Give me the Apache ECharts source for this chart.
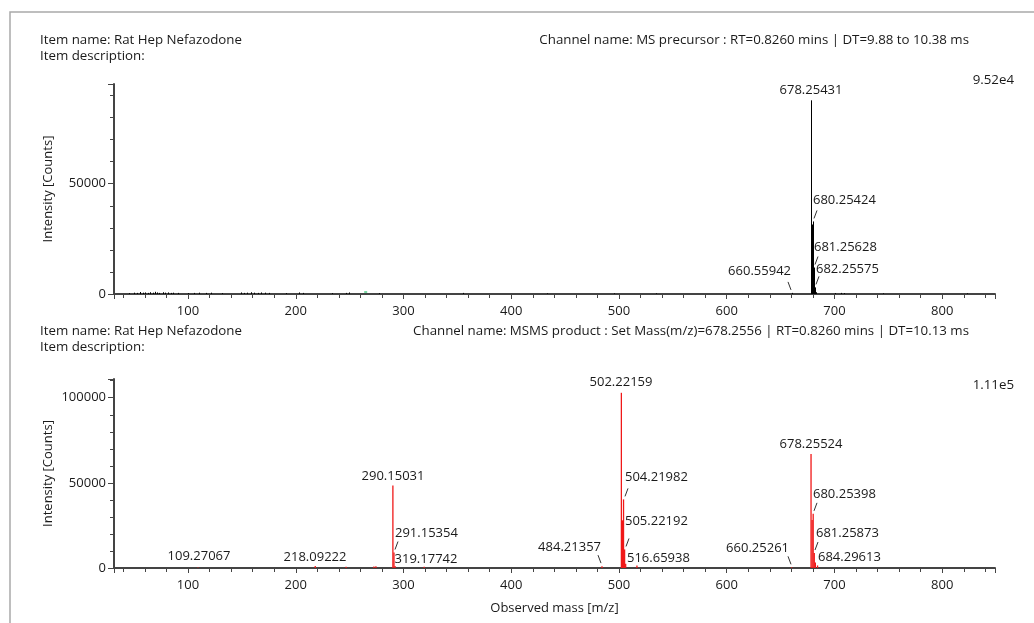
<!DOCTYPE html>
<html><head><meta charset="utf-8">
<script src="https://cdn.jsdelivr.net/npm/echarts@6/dist/echarts.min.js"></script>
<style>html,body{margin:0;padding:0;background:#fff}#c{width:1034px;height:623px}</style>
</head><body><div id="c"></div>
<script>
// ---------- Panel 1: MS precursor (black sticks) ----------
const msMz = [44.9, 50.1, 53.0, 55.1, 58.0, 60.1, 63.0, 65.1, 67.1, 69.0, 71.1, 73.0, 77.0, 79.0, 81.1, 84.0, 86.1, 91.1,
  100.1, 105.1, 110.0, 117.1, 121.0, 131.1, 149.0, 152.1, 155.0, 158.1, 161.0, 165.1, 168.0, 171.1, 175.1, 191.1,
  203.1, 207.1, 233.2, 246.2, 249.1, 277.2, 355.2, 433.2, 495.2, 534.3,
  660.55942, 678.25431, 679.2576, 680.25424, 681.25628, 682.25575, 683.26, 700.3, 706.3, 709.3, 745.3, 823.4];
const msIntensity = [400, 600, 500, 900, 600, 700, 500, 800, 600, 1000, 700, 500, 800, 600, 700, 500, 600, 500,
  400, 500, 600, 500, 600, 400, 700, 500, 600, 800, 600, 500, 700, 600, 500, 400,
  700, 500, 400, 500, 700, 400, 500, 300, 300, 300,
  500, 87800, 31500, 32900, 12000, 3000, 800, 400, 500, 400, 300, 300];
const msMarkerMz = [264.9];
const msMarkerIntensity = [900];
const msLabelMz = [678.25431, 680.25424, 681.25628, 682.25575, 660.55942];
const msLabelIntensity = [87800, 32900, 12000, 3000, 500];
const msLabelText = ['678.25431', '680.25424', '681.25628', '682.25575', '660.55942'];

// ---------- Panel 2: MSMS product (red sticks) ----------
const msmsMz = [109.27067, 218.09222, 246.7, 272.5, 274.4, 290.15031, 291.15354, 292.15, 319.17742,
  484.21357, 502.22159, 503.2245, 504.21982, 505.22192, 506.22, 516.65938,
  660.25261, 678.25524, 679.2583, 680.25398, 681.25873, 682.2563, 684.29613];
const msmsIntensity = [300, 1200, 800, 900, 1000, 48500, 9100, 1200, 700,
  1100, 102900, 28000, 40300, 10900, 2500, 1500,
  400, 67000, 28200, 31800, 8800, 3200, 1500];
const msmsLabelMz = [109.27067, 218.09222, 290.15031, 291.15354, 319.17742, 484.21357, 502.22159, 504.21982,
  505.22192, 516.65938, 660.25261, 678.25524, 680.25398, 681.25873, 684.29613];
const msmsLabelIntensity = [300, 1200, 48500, 9100, 700, 1100, 102900, 40300, 10900, 1500, 400, 67000, 31800, 8800, 1500];
const msmsLabelText = ['109.27067', '218.09222', '290.15031', '291.15354', '319.17742', '484.21357', '502.22159', '504.21982',
  '505.22192', '516.65938', '660.25261', '678.25524', '680.25398', '681.25873', '684.29613'];

// axis ranges & texts
const xRange = [31.3, 849];
const msYMax = 95200;
const msmsYMax = 111000;
const msHeader = ['Item name: Rat Hep Nefazodone', 'Item description:', 'Channel name: MS precursor : RT=0.8260 mins | DT=9.88 to 10.38 ms', '9.52e4'];
const msmsHeader = ['Item name: Rat Hep Nefazodone', 'Item description:', 'Channel name: MSMS product : Set Mass(m/z)=678.2556 | RT=0.8260 mins | DT=10.13 ms', '1.11e5'];
const yName = 'Intensity [Counts]';
const xName = 'Observed mass [m/z]';

// ---------- label layout (style, not data) ----------
const msLabelLayout = [
  {align: 'center', dx: 0, dy: -10, leader: ''},
  {align: 'left', dx: 0, dy: -21, leader: '/'},
  {align: 'left', dx: 0, dy: -20, leader: '/'},
  {align: 'left', dx: 1, dy: -18, leader: '/'},
  {align: 'right', dx: -1, dy: -22, leader: '\\'}
];
const msmsLabelLayout = [
  {align: 'center', dx: 1, dy: -11, leader: ''},
  {align: 'center', dx: 0, dy: -9, leader: ''},
  {align: 'center', dx: 0, dy: -9, leader: ''},
  {align: 'left', dx: 1, dy: -19, leader: '/'},
  {align: 'center', dx: 2, dy: -8, leader: ''},
  {align: 'right', dx: -1, dy: -19, leader: '\\'},
  {align: 'center', dx: 0, dy: -10, leader: ''},
  {align: 'left', dx: 1, dy: -22, leader: '/'},
  {align: 'left', dx: 0, dy: -28, leader: '/'},
  {align: 'left', dx: -10, dy: -7, leader: ''},
  {align: 'right', dx: -3, dy: -19, leader: '\\'},
  {align: 'center', dx: 0, dy: -10, leader: ''},
  {align: 'left', dx: 0, dy: -20, leader: '/'},
  {align: 'left', dx: 2, dy: -20, leader: '/'},
  {align: 'left', dx: 0, dy: -8, leader: ''}
];

const FONT = '"Open Sans", "Noto Sans", sans-serif';
const FS = 13;
const HFS = 13.3;
const TXT = '#1a1a1a';
const AXC = '#444';

function stickSeries(idx, mz, inten, color, crisp, width) {
  return {
    type: 'custom', xAxisIndex: idx, yAxisIndex: idx, silent: true, clip: true, z: 3,
    data: mz.map((m, i) => [m, inten[i]]),
    renderItem: function (params, api) {
      const p0 = api.coord([api.value(0), 0]);
      const p1 = api.coord([api.value(0), api.value(1)]);
      const x = crisp ? Math.round(p0[0]) + 0.5 : p0[0];
      return {type: 'line', shape: {x1: x, y1: p0[1], x2: x, y2: p1[1]}, style: {stroke: color, lineWidth: width}};
    }
  };
}
function labelSeries(idx, mz, inten, texts, layout) {
  return {
    type: 'custom', xAxisIndex: idx, yAxisIndex: idx, silent: true, clip: false, z: 5,
    data: mz.map((m, i) => [m, inten[i]]),
    renderItem: function (params, api) {
      const i = params.dataIndex;
      const p = api.coord([api.value(0), api.value(1)]);
      const L = layout[i];
      const px = Math.round(p[0]);
      const ch = [{type: 'text', x: px + L.dx, y: p[1] + L.dy,
        style: {text: texts[i], align: L.align, verticalAlign: 'middle', fontFamily: FONT, fontSize: FS, fill: TXT}}];
      if (L.leader === '/') ch.push({type: 'line', shape: {x1: px + 1, y1: p[1] - 3, x2: px + 4, y2: p[1] - 11}, style: {stroke: '#333', lineWidth: 1}});
      if (L.leader === '\\') ch.push({type: 'line', shape: {x1: px - 1, y1: p[1] - 3, x2: px - 4, y2: p[1] - 11}, style: {stroke: '#333', lineWidth: 1}});
      return {type: 'group', children: ch};
    }
  };
}
function xAxis(idx, withName) {
  return {
    type: 'value', gridIndex: idx, min: xRange[0], max: xRange[1], splitNumber: 8, minInterval: 100, maxInterval: 100,
    axisLine: {show: true, onZero: false, lineStyle: {color: AXC, width: 2}},
    axisTick: {show: true, length: 5, lineStyle: {color: AXC}},
    minorTick: {show: true, splitNumber: 5, length: 4, lineStyle: {color: AXC}},
    axisLabel: {show: true, showMinLabel: false, showMaxLabel: false, margin: 11, color: TXT, fontFamily: FONT, fontSize: FS},
    splitLine: {show: false},
    name: withName ? xName : '', nameLocation: 'middle', nameGap: 34, nameMoveOverlap: false,
    nameTextStyle: {color: TXT, fontFamily: FONT, fontSize: FS}
  };
}
function yAxis(idx, max) {
  return {
    type: 'value', gridIndex: idx, min: 0, max: max, splitNumber: 2, minInterval: 50000, maxInterval: 50000,
    axisLine: {show: true, lineStyle: {color: AXC, width: 2}},
    axisTick: {show: true, length: 6, lineStyle: {color: AXC}},
    minorTick: {show: true, splitNumber: 5, length: 4, lineStyle: {color: AXC}},
    axisLabel: {show: true, showMaxLabel: false, margin: 8, color: TXT, fontFamily: FONT, fontSize: FS,
      formatter: function (v) { return String(v); }},
    splitLine: {show: false},
    name: yName, nameLocation: 'middle', nameGap: 59, nameRotate: 90, nameMoveOverlap: false,
    nameTextStyle: {color: TXT, fontFamily: FONT, fontSize: FS}
  };
}
function headerTexts(h, yTop, yScale) {
  const st = {fontFamily: FONT, fontSize: HFS, fill: TXT};
  return [
    {type: 'text', left: 40, top: yTop, style: Object.assign({text: h[0]}, st)},
    {type: 'text', left: 40, top: yTop + 16.5, style: Object.assign({text: h[1]}, st)},
    {type: 'text', right: 1034 - 969, top: yTop, style: Object.assign({text: h[2]}, st)},
    {type: 'text', right: 1034 - 1014, top: yScale, style: Object.assign({text: h[3]}, st)}
  ];
}

const chart = echarts.init(document.getElementById('c'), null, {renderer: 'canvas'});
chart.setOption({
  backgroundColor: '#fff',
  animation: false,
  grid: [
    {left: 114, right: 39, top: 84, height: 210, containLabel: false},
    {left: 114, right: 39, top: 379, height: 189, containLabel: false}
  ],
  xAxis: [xAxis(0, false), xAxis(1, true)],
  yAxis: [yAxis(0, msYMax), yAxis(1, msmsYMax)],
  graphic: [
    {type: 'rect', shape: {x: 10, y: 12, width: 1100, height: 700}, style: {fill: 'none', stroke: '#a9a9a9', lineWidth: 1.5}, z: -1}
  ].concat(headerTexts(msHeader, 33.5, 73.5), headerTexts(msmsHeader, 324.5, 378.5)),
  series: [
    stickSeries(0, msMz, msIntensity, '#000', true, 1),
    {type: 'scatter', xAxisIndex: 0, yAxisIndex: 0, data: msMarkerMz.map((m, i) => [m, msMarkerIntensity[i]]),
      symbol: 'rect', symbolSize: [3, 1.5], itemStyle: {color: '#22bb66'}, silent: true, z: 4},
    labelSeries(0, msLabelMz, msLabelIntensity, msLabelText, msLabelLayout),
    stickSeries(1, msmsMz, msmsIntensity, '#f01818', false, 1.3),
    labelSeries(1, msmsLabelMz, msmsLabelIntensity, msmsLabelText, msmsLabelLayout)
  ]
});
</script></body></html>
